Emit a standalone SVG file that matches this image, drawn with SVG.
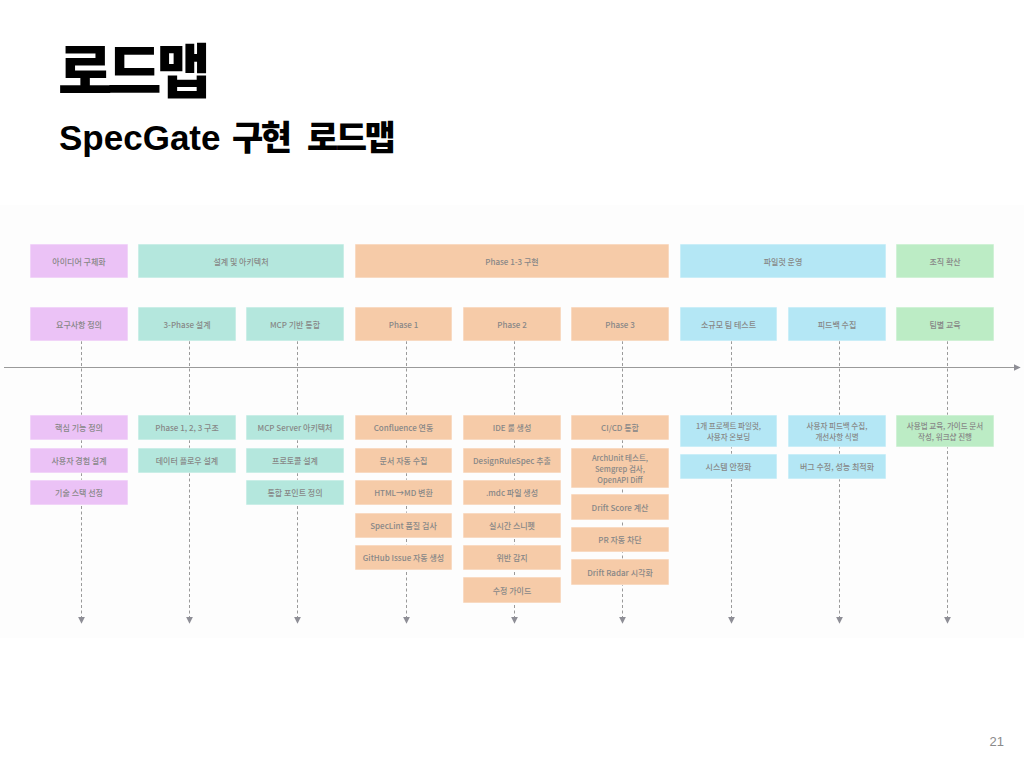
<svg xmlns="http://www.w3.org/2000/svg" width="1024" height="768" viewBox="0 0 1024 768">
<defs>
<style>
.t{font-family:"Noto Sans CJK KR","Noto Sans",sans-serif;font-size:8px;font-weight:500;fill:#878787;text-anchor:middle;dominant-baseline:central}
.s{font-size:7.5px}
.pu{fill:#ebc2f6}.te{fill:#b4e7dd}.pe{fill:#f6cba8}.bl{fill:#b4e7f5}.gr{fill:#bcecc5}
.box{stroke:#ffffff;stroke-opacity:0.6;stroke-width:1}
.dash{stroke:#9a9a9a;stroke-width:1;stroke-dasharray:3 2.5;fill:none}
</style>
<marker id="ah" viewBox="0 0 10 10" refX="9" refY="5" markerWidth="7" markerHeight="7" orient="auto" markerUnits="userSpaceOnUse">
<path d="M0,0 L10,5 L0,10 z" fill="#8e8e96"/>
</marker>
</defs>
<rect width="1024" height="768" fill="#ffffff"/>
<rect x="0" y="205" width="1024" height="433" fill="#fdfdfd"/>

<text x="58" y="93" font-family="'Noto Sans CJK KR',sans-serif" font-size="59" font-weight="900" letter-spacing="-5" fill="#000">로드맵</text>
<text x="59" y="150" font-family="'Liberation Sans','Noto Sans CJK KR',sans-serif" font-size="35" font-weight="700" fill="#000">SpecGate<tspan x="232" font-family="'Noto Sans CJK KR',sans-serif" font-weight="900" font-size="34" letter-spacing="-2.5">구현</tspan><tspan x="307" font-family="'Noto Sans CJK KR',sans-serif" font-weight="900" font-size="34" letter-spacing="-2.5">로드맵</tspan></text>
<text x="1004" y="746" font-family="'Liberation Sans',sans-serif" font-size="13" fill="#8a8a8a" text-anchor="end">21</text>

<g id="connectors">
<line x1="4" y1="367.5" x2="1020" y2="367.5" stroke="#9a9a9a" stroke-width="1.2" marker-end="url(#ah)"/>
<line class="dash" x1="81.5" y1="341" x2="81.5" y2="623" marker-end="url(#ah)"/>
<line class="dash" x1="189.5" y1="341" x2="189.5" y2="623" marker-end="url(#ah)"/>
<line class="dash" x1="297.5" y1="341" x2="297.5" y2="623" marker-end="url(#ah)"/>
<line class="dash" x1="406.5" y1="341" x2="406.5" y2="623" marker-end="url(#ah)"/>
<line class="dash" x1="514.5" y1="341" x2="514.5" y2="623" marker-end="url(#ah)"/>
<line class="dash" x1="622.5" y1="341" x2="622.5" y2="623" marker-end="url(#ah)"/>
<line class="dash" x1="731.5" y1="341" x2="731.5" y2="623" marker-end="url(#ah)"/>
<line class="dash" x1="839.5" y1="341" x2="839.5" y2="623" marker-end="url(#ah)"/>
<line class="dash" x1="947.5" y1="341" x2="947.5" y2="623" marker-end="url(#ah)"/>
</g>

<g id="stage-idea"><rect class="box pu" x="30" y="244" width="98" height="34"/><text class="t" x="79" y="261">아이디어 구체화</text></g>
<g id="stage-design"><rect class="box te" x="138" y="244" width="206" height="34"/><text class="t" x="241" y="261">설계 및 아키텍처</text></g>
<g id="stage-impl"><rect class="box pe" x="355" y="244" width="314" height="34"/><text class="t" x="512" y="261">Phase 1-3 구현</text></g>
<g id="stage-pilot"><rect class="box bl" x="680" y="244" width="206" height="34"/><text class="t" x="783" y="261">파일럿 운영</text></g>
<g id="stage-org"><rect class="box gr" x="896" y="244" width="98" height="34"/><text class="t" x="945" y="261">조직 확산</text></g>

<g id="task-req"><rect class="box pu" x="30" y="307" width="98" height="34"/><text class="t" x="79" y="324">요구사항 정의</text></g>
<g id="task-3phase"><rect class="box te" x="138" y="307" width="98" height="34"/><text class="t" x="187" y="324">3-Phase 설계</text></g>
<g id="task-mcp"><rect class="box te" x="246" y="307" width="98" height="34"/><text class="t" x="295" y="324">MCP 기반 통합</text></g>
<g id="task-p1"><rect class="box pe" x="355" y="307" width="97" height="34"/><text class="t" x="403.5" y="324">Phase 1</text></g>
<g id="task-p2"><rect class="box pe" x="463" y="307" width="98" height="34"/><text class="t" x="512" y="324">Phase 2</text></g>
<g id="task-p3"><rect class="box pe" x="571" y="307" width="98" height="34"/><text class="t" x="620" y="324">Phase 3</text></g>
<g id="task-small"><rect class="box bl" x="680" y="307" width="97" height="34"/><text class="t" x="728.5" y="324">소규모 팀 테스트</text></g>
<g id="task-feedback"><rect class="box bl" x="788" y="307" width="98" height="34"/><text class="t" x="837" y="324">피드백 수집</text></g>
<g id="task-edu"><rect class="box gr" x="896" y="307" width="98" height="34"/><text class="t" x="945" y="324">팀별 교육</text></g>

<g id="c1-1"><rect class="box pu" x="30" y="415" width="98" height="25"/><text class="t" x="79" y="427.5">핵심 기능 정의</text></g>
<g id="c1-2"><rect class="box pu" x="30" y="448" width="98" height="25"/><text class="t" x="79" y="460.5">사용자 경험 설계</text></g>
<g id="c1-3"><rect class="box pu" x="30" y="480" width="98" height="25"/><text class="t" x="79" y="492.5">기술 스택 선정</text></g>

<g id="c2-1"><rect class="box te" x="138" y="415" width="98" height="25"/><text class="t" x="187" y="427.5">Phase 1, 2, 3 구조</text></g>
<g id="c2-2"><rect class="box te" x="138" y="448" width="98" height="25"/><text class="t" x="187" y="460.5">데이터 플로우 설계</text></g>

<g id="c3-1"><rect class="box te" x="246" y="415" width="98" height="25"/><text class="t" x="295" y="427.5">MCP Server 아키텍처</text></g>
<g id="c3-2"><rect class="box te" x="246" y="448" width="98" height="25"/><text class="t" x="295" y="460.5">프로토콜 설계</text></g>
<g id="c3-3"><rect class="box te" x="246" y="480" width="98" height="25"/><text class="t" x="295" y="492.5">통합 포인트 정의</text></g>

<g id="c4-1"><rect class="box pe" x="355" y="415" width="97" height="25"/><text class="t" x="403.5" y="427.5">Confluence 연동</text></g>
<g id="c4-2"><rect class="box pe" x="355" y="448" width="97" height="25"/><text class="t" x="403.5" y="460.5">문서 자동 수집</text></g>
<g id="c4-3"><rect class="box pe" x="355" y="480" width="97" height="25"/><text class="t" x="403.5" y="492.5">HTML→MD 변환</text></g>
<g id="c4-4"><rect class="box pe" x="355" y="513" width="97" height="25"/><text class="t" x="403.5" y="525.5">SpecLint 품질 검사</text></g>
<g id="c4-5"><rect class="box pe" x="355" y="545" width="97" height="25"/><text class="t" x="403.5" y="557.5">GitHub Issue 자동 생성</text></g>

<g id="c5-1"><rect class="box pe" x="463" y="415" width="98" height="25"/><text class="t" x="512" y="427.5">IDE 룰 생성</text></g>
<g id="c5-2"><rect class="box pe" x="463" y="448" width="98" height="25"/><text class="t" x="512" y="460.5">DesignRuleSpec 추출</text></g>
<g id="c5-3"><rect class="box pe" x="463" y="480" width="98" height="25"/><text class="t" x="512" y="492.5">.mdc 파일 생성</text></g>
<g id="c5-4"><rect class="box pe" x="463" y="513" width="98" height="25"/><text class="t" x="512" y="525.5">실시간 스니펫</text></g>
<g id="c5-5"><rect class="box pe" x="463" y="545" width="98" height="25"/><text class="t" x="512" y="557.5">위반 감지</text></g>
<g id="c5-6"><rect class="box pe" x="463" y="577" width="98" height="26"/><text class="t" x="512" y="590">수정 가이드</text></g>

<g id="c6-1"><rect class="box pe" x="571" y="415" width="98" height="25"/><text class="t" x="620" y="427.5">CI/CD 통합</text></g>
<g id="c6-2"><rect class="box pe" x="571" y="448" width="98" height="40"/><text class="t s" x="620" y="457">ArchUnit 테스트,</text><text class="t s" x="620" y="468">Semgrep 검사,</text><text class="t s" x="620" y="479">OpenAPI Diff</text></g>
<g id="c6-3"><rect class="box pe" x="571" y="494" width="98" height="26"/><text class="t" x="620" y="507">Drift Score 계산</text></g>
<g id="c6-4"><rect class="box pe" x="571" y="527" width="98" height="25"/><text class="t" x="620" y="539.5">PR 자동 차단</text></g>
<g id="c6-5"><rect class="box pe" x="571" y="559" width="98" height="26"/><text class="t" x="620" y="572">Drift Radar 시각화</text></g>

<g id="c7-1"><rect class="box bl" x="680" y="415" width="97" height="32"/><text class="t s" x="728.5" y="425.5">1개 프로젝트 파일럿,</text><text class="t s" x="728.5" y="436.5">사용자 온보딩</text></g>
<g id="c7-2"><rect class="box bl" x="680" y="454" width="97" height="25"/><text class="t" x="728.5" y="466.5">시스템 안정화</text></g>

<g id="c8-1"><rect class="box bl" x="788" y="415" width="98" height="32"/><text class="t s" x="837" y="425.5">사용자 피드백 수집,</text><text class="t s" x="837" y="436.5">개선사항 식별</text></g>
<g id="c8-2"><rect class="box bl" x="788" y="454" width="98" height="25"/><text class="t" x="837" y="466.5">버그 수정, 성능 최적화</text></g>

<g id="c9-1"><rect class="box gr" x="896" y="415" width="98" height="32"/><text class="t s" x="945" y="425.5">사용법 교육, 가이드 문서</text><text class="t s" x="945" y="436.5">작성, 워크샵 진행</text></g>
</svg>
